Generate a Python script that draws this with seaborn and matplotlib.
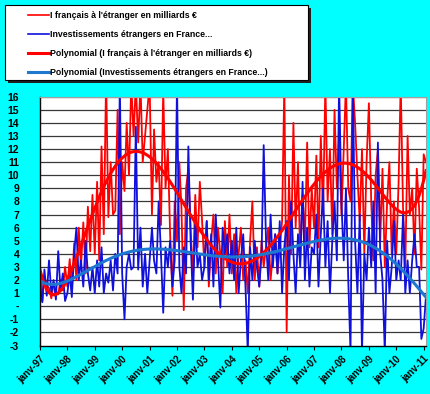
import numpy as np
import pandas as pd
import seaborn as sns
import matplotlib.pyplot as plt
from matplotlib.lines import Line2D
from matplotlib.patches import Rectangle

# monthly values, janv-97 .. fevr-11 (values above 16 / below -3 are clipped by the axis)
red_values = [
    3.1, 0.4, 2.3, 1.6, 1.4, 0.6, 1.8, 1.0, 0.9, 2.0, 1.2, 3.0,        # 1997
    1.5, 3.6, 1.2, 4.8, 2.0, 6.0, 3.0, 6.4, 2.5, 7.6, 4.2, 8.5,        # 1998
    4.0, 9.5, 3.5, 12.2, 5.5, 17.5, 6.8, 11.0, 7.0, 7.3, 15.0, 5.5,    # 1999
    11.0, 8.8, 14.0, 10.0, 17.0, 13.0, 17.0, 12.5, 17.0, 11.0, 13.0, 15.0,  # 2000
    17.0, 7.0, 13.5, 9.5, 11.0, 6.2, 16.5, 9.0, 12.0, 5.5, 0.8, 8.0,   # 2001
    5.0, 11.0, 7.5, -0.3, 9.0, 10.5, 6.0, 2.0, 8.5, 4.5, 9.5, 6.5,     # 2002
    3.0, 6.5, 1.5, 5.0, 7.0, 2.5, 6.0, 4.0, 1.0, 6.5, 3.0, 7.0,        # 2003
    2.5, 5.5, 1.0, 4.0, 6.0, 2.0, 3.5, 1.0, 5.0, 8.0, 2.0, 4.5,        # 2004
    1.5, 5.0, 3.0, 4.5, 6.0, 2.0, 4.0, 5.5, 2.5, 4.5, 6.5, 17.0,       # 2005
    -2.0, 10.0, 4.0, 14.0, 6.0, 11.0, 3.5, 8.5, 5.0, 12.5, 4.5, 9.0,   # 2006
    6.0, 11.5, 4.5, 13.0, 7.0, 17.0, 8.0, 12.0, 5.5, 15.0, 9.0, 13.0,  # 2007
    7.0, 12.0, 17.0, 9.0, 8.0, 17.0, 14.0, 10.0, 6.5, 12.0, 4.0, 11.0,  # 2008
    15.5, 8.0, 3.5, 10.0, 12.0, 5.0, 10.5, 3.0, 8.0, 11.0, 4.0, 8.0,   # 2009
    4.0, 9.5, 17.0, 7.5, 3.0, 13.0, 7.0, 9.0, 4.0, 10.5, 7.5, 2.8,     # 2010
    11.6, 11.0,                                                         # 2011
]
blue_values = [
    1.5, 0.3, 2.8, 0.8, 3.5, 1.0, 2.0, 0.5, 4.2, 1.2, 2.5, 0.4,        # 1997
    1.0, 2.5, 0.7, 4.0, 6.0, 2.0, 3.5, 1.5, 5.0, 2.5, 1.2, 3.0,        # 1998
    1.0, 3.5, 1.5, 4.5, 1.0, 2.5, 1.8, 3.5, 1.2, 4.0, 2.5, 17.0,       # 1999
    2.5, -1.0, 3.0, 4.0, 2.8, 3.0, 13.7, 2.8, 6.0, 1.5, 4.0, 1.0,      # 2000
    3.5, 6.0, 3.5, 2.5, 8.0, 4.0, -0.5, 4.5, 3.0, 5.0, 1.5, 3.5,       # 2001
    17.0, 3.0, 1.0, 4.5, 2.5, 12.2, 5.0, 0.5, 6.5, 3.0, 4.0, 2.0,      # 2002
    3.0, 6.5, 2.0, 5.5, 1.5, 7.0, 3.5, -0.1, 6.0, 4.0, 5.5, 2.5,       # 2003
    5.0, 2.0, 6.0, 1.0, 3.5, 5.5, 1.5, -3.5, 4.5, 2.0, 5.0, 3.0,       # 2004
    1.5, 4.0, 12.3, 5.0, 2.0, 7.0, 3.0, 5.5, 2.5, 6.5, 1.0, 4.5,       # 2005
    6.5, 2.0, 8.0, 4.0, 1.0, 5.5, 3.0, 9.5, 2.0, 6.0, 1.5, 4.5,        # 2006
    4.0, 7.0, 1.5, 5.5, 9.0, 3.0, 6.5, 1.0, 5.0, 8.0, 3.5, 17.0,       # 2007
    8.0, 3.5, 9.0, 2.0, -3.5, 17.0, 5.0, 1.0, 7.0, -3.5, 4.0, 2.0,     # 2008
    6.0, 3.0, 8.0, 1.0, 12.5, 4.0, 2.0, -3.5, 5.0, 1.0, 3.0, 6.5,      # 2009
    2.0, 3.5, 2.0, 7.0, 1.0, 3.5, 1.0, 3.5, 5.5, 3.0, 3.0, -2.5,       # 2010
    -1.7, 0.8,                                                          # 2011
]

years = list(range(1997, 2012))
tick_labels = ["janv-%02d" % (y % 100) for y in years]
y_ticks = list(range(-3, 17))
y_labels = ["-" if v == 0 else str(v) for v in y_ticks]

series_names = [
    "I français à l'étranger en milliards €",
    "Investissements étrangers en France...",
    "Polynomial (I français à l'étranger en milliards €)",
    "Polynomial (Investissements étrangers en France...)",
]

RED = "#FF0000"
BLUE = "#1010DD"
BLUE_TREND = "#1E78D0"
BG = "#00FFFF"

dates = pd.date_range("1997-01-01", periods=len(red_values), freq="MS")
df = pd.DataFrame({"date": dates, "red": red_values, "blue": blue_values})

# polynomial (order 6) trend lines, like the spreadsheet trendline
idx = np.arange(len(df))
df["red_trend"] = np.polynomial.Polynomial.fit(idx, df["red"], 6)(idx)
df["blue_trend"] = np.polynomial.Polynomial.fit(idx, df["blue"], 6)(idx)

plt.rcParams["font.family"] = ["Liberation Sans", "DejaVu Sans"]

fig = plt.figure(figsize=(4.3, 3.94), dpi=100, facecolor=BG)
ax = fig.add_axes([40 / 430, 1 - 345.5 / 394, 386 / 430, (345.5 - 96.7) / 394])
ax.set_facecolor("white")

sns.lineplot(data=df, x="date", y="red", ax=ax, color=RED, lw=1.3, estimator=None)
sns.lineplot(data=df, x="date", y="blue", ax=ax, color=BLUE, lw=1.3, estimator=None)
sns.lineplot(data=df, x="date", y="red_trend", ax=ax, color=RED, lw=2.2, estimator=None)
sns.lineplot(data=df, x="date", y="blue_trend", ax=ax, color=BLUE_TREND, lw=2.2, estimator=None)

ax.set_ylim(-3, 16)
ax.set_xlim(dates[0], dates[-1])
ax.set_yticks(y_ticks)
ax.set_yticklabels(y_labels, fontsize=7.5, fontweight="bold")
for v in y_ticks[1:]:
    ax.axhline(v, color="#383838", lw=0.9, zorder=0)

xt = pd.to_datetime(["%d-01-01" % y for y in years])
ax.set_xticks(xt)
ax.set_xticklabels(tick_labels, fontsize=7, fontweight="bold", rotation=45,
                   ha="right", va="top", rotation_mode="anchor")
ax.tick_params(axis="x", length=3, width=0.8, pad=3)
ax.tick_params(axis="y", length=0, pad=15)
ax.set_xlabel("")
ax.set_ylabel("")
for s in ["top", "right"]:
    ax.spines[s].set_color("#A0A0A0")
for s in ["left", "bottom"]:
    ax.spines[s].set_color("black")
    ax.spines[s].set_linewidth(1)

# legend box with shadow
W, H = 430, 394
fig.patches.append(Rectangle((8 / W, 1 - 83 / H), 303 / W, 75 / H, transform=fig.transFigure,
                             facecolor="#202020", edgecolor="none", zorder=1))
fig.patches.append(Rectangle((5 / W, 1 - 80 / H), 303 / W, 75 / H, transform=fig.transFigure,
                             facecolor="white", edgecolor="black", lw=0.8, zorder=2))
handles = [
    Line2D([], [], color=RED, lw=1.2),
    Line2D([], [], color=BLUE, lw=1.2),
    Line2D([], [], color=RED, lw=2.2),
    Line2D([], [], color=BLUE_TREND, lw=2.2),
]
leg = fig.legend(handles, series_names, loc="upper left", bbox_to_anchor=(19 / W, 1 - 2 / H),
                 frameon=False, prop={"size": 6.3, "weight": "bold"}, handlelength=2.4,
                 handletextpad=0.1, labelspacing=1.15, borderpad=0.5)
leg.set_zorder(3)

fig.savefig("out.png", dpi=100, facecolor=BG)
